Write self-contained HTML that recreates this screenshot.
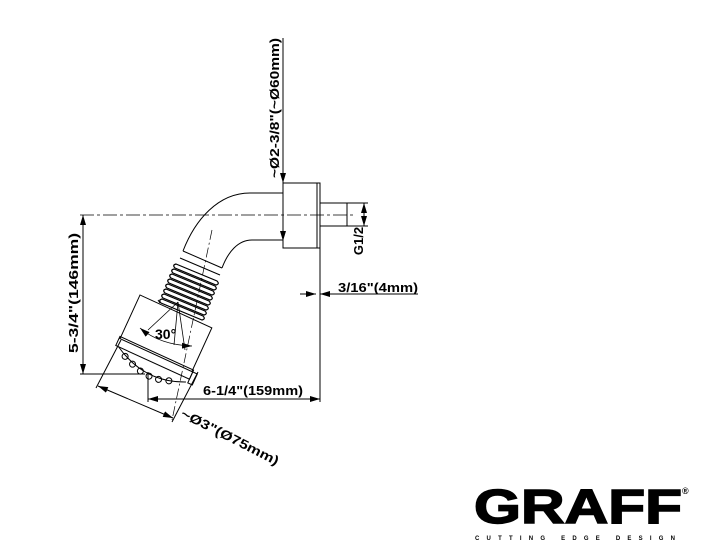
<!DOCTYPE html>
<html><head><meta charset="utf-8"><style>
html,body{margin:0;padding:0;background:#fff;}
svg{display:block;}
text{font-family:"Liberation Sans",sans-serif;font-weight:bold;fill:#000;}
</style></head><body>
<svg width="701" height="558" viewBox="0 0 701 558" xmlns="http://www.w3.org/2000/svg">
<defs>
<marker id="a" viewBox="0 0 10 6" refX="10" refY="3" markerWidth="10" markerHeight="6" orient="auto-start-reverse" markerUnits="userSpaceOnUse"><path d="M0,0 L10,3 L0,6 z" fill="#000"/></marker>
</defs>
<g fill="none" stroke="#000" stroke-width="1">
<!-- flange -->
<rect x="283" y="183" width="37" height="65"/>
<line x1="317" y1="183" x2="317" y2="248"/>
<!-- nipple -->
<rect x="320" y="203" width="27" height="23"/>
<!-- G1/2 dim -->
<line x1="347" y1="203" x2="368" y2="203"/>
<line x1="347" y1="226" x2="368" y2="226"/>
<line x1="364" y1="203" x2="364" y2="226" marker-start="url(#a)" marker-end="url(#a)"/>
<!-- top dim -->
<line x1="283" y1="38" x2="283" y2="241" marker-end="url(#a)"/>
<line x1="283" y1="175" x2="283" y2="183" marker-end="url(#a)" stroke-width="0"/>
<!-- centerline -->
<line x1="80" y1="215" x2="356" y2="215" stroke-dasharray="14,3,3,3" stroke-width="0.8"/>
<!-- 5-3/4 dim -->
<line x1="80" y1="374" x2="145" y2="374"/>
<line x1="83" y1="215" x2="83" y2="374" marker-start="url(#a)" marker-end="url(#a)"/>
<!-- wall line and 3/16 -->
<line x1="320" y1="248" x2="320" y2="402"/>
<line x1="300" y1="294" x2="316" y2="294" marker-end="url(#a)"/>
<line x1="338" y1="294" x2="320" y2="294" marker-end="url(#a)"/>
<line x1="320" y1="294" x2="418" y2="294"/>
<!-- 6-1/4 dim -->
<line x1="148" y1="372" x2="148" y2="402"/>
<line x1="148" y1="399" x2="320" y2="399" marker-start="url(#a)" marker-end="url(#a)"/>
<!-- arm -->
<path d="M283,193 L250,193 C218,193 195,220 183,251"/>
<path d="M283,240 L252,240 C238,240 228,252 222,268"/>
<line x1="183" y1="251" x2="222" y2="268"/>
<line x1="180" y1="258" x2="220" y2="275"/>
<!-- ribs -->
<g stroke-width="1.2">
<path d="M176,264 L217,281 Q220,284 216,285 L175,268 Q172,265 176,264z"/>
<path d="M174,269 L215,286 Q218,289 214,290 L173,273 Q170,270 174,269z"/>
<path d="M172,274 L213,291 Q216,294 212,295 L171,278 Q168,275 172,274z"/>
<path d="M170,279 L211,296 Q214,299 210,300 L169,283 Q166,280 170,279z"/>
<path d="M168,284 L209,301 Q212,304 208,305 L167,288 Q164,285 168,284z"/>
<path d="M166,289 L207,306 Q210,309 206,310 L165,293 Q162,290 166,289z"/>
<path d="M164,294 L205,311 Q208,314 204,315 L163,298 Q160,295 164,294z"/>
<path d="M162,299 L203,316 Q206,319 202,320 L161,303 Q158,300 162,299z"/>
</g>
<line x1="160" y1="303" x2="158" y2="300"/>
<!-- head -->
<g transform="translate(140,295) rotate(24.6)">
<rect x="0" y="0" width="79" height="48"/>
<rect x="-1" y="46" width="81" height="10"/>
<path d="M2,56 Q40,78 78,60"/>
<circle cx="12" cy="62" r="3"/><circle cx="22" cy="66" r="3"/><circle cx="32" cy="69" r="3"/><circle cx="42" cy="70" r="3"/><circle cx="52" cy="69" r="3"/><circle cx="62" cy="66" r="3"/>
<rect x="80" y="48" width="5" height="12"/>
</g>
<!-- axis -->
<line x1="212" y1="230" x2="172" y2="420" stroke-dasharray="10,3,2,3" stroke-width="0.7"/>
<!-- 30 deg -->
<line x1="178" y1="302" x2="148" y2="330" stroke-width="0.8"/>
<line x1="178" y1="302" x2="174" y2="345" stroke-width="0.8"/>
<line x1="178" y1="302" x2="185" y2="350" stroke-width="0.8"/>
<path d="M140,328 Q160,345 192,346" marker-start="url(#a)" marker-end="url(#a)" stroke-width="0.8"/>
<!-- Ø3 dim -->
<line x1="121" y1="340" x2="96" y2="388"/>
<line x1="198" y1="372" x2="172" y2="422"/>
<line x1="98" y1="386" x2="173" y2="418" marker-start="url(#a)" marker-end="url(#a)"/>
</g>
<text x="0" y="0" font-size="13" transform="translate(279,108) rotate(-90)" text-anchor="middle" textLength="140" lengthAdjust="spacingAndGlyphs">~Ø2-3/8"(~Ø60mm)</text>
<text x="0" y="0" font-size="13" transform="translate(78,293) rotate(-90)" text-anchor="middle" textLength="120" lengthAdjust="spacingAndGlyphs">5-3/4"(146mm)</text>
<text x="0" y="0" font-size="13" transform="translate(363,241) rotate(-90)" text-anchor="middle">G1/2</text>
<text x="338" y="292" font-size="13" textLength="80" lengthAdjust="spacingAndGlyphs">3/16"(4mm)</text>
<text x="203" y="395" font-size="13" textLength="100" lengthAdjust="spacingAndGlyphs">6-1/4"(159mm)</text>
<text x="155" y="339" font-size="14">30°</text>
<text x="0" y="0" font-size="13" transform="translate(228,441) rotate(27)" text-anchor="middle" textLength="108" lengthAdjust="spacingAndGlyphs">~Ø3"(Ø75mm)</text>
<!-- logo -->
<text x="474" y="523" font-size="48" font-weight="900" textLength="208" lengthAdjust="spacingAndGlyphs" style="font-family:'Liberation Sans',sans-serif;font-weight:bold" stroke="#000" stroke-width="1.5">GRAFF</text>
<text x="682" y="494" font-size="9" font-weight="normal">®</text>
<text x="475" y="540" font-size="6" textLength="200" lengthAdjust="spacing">CUTTING EDGE DESIGN</text>
</svg>
</body></html>
